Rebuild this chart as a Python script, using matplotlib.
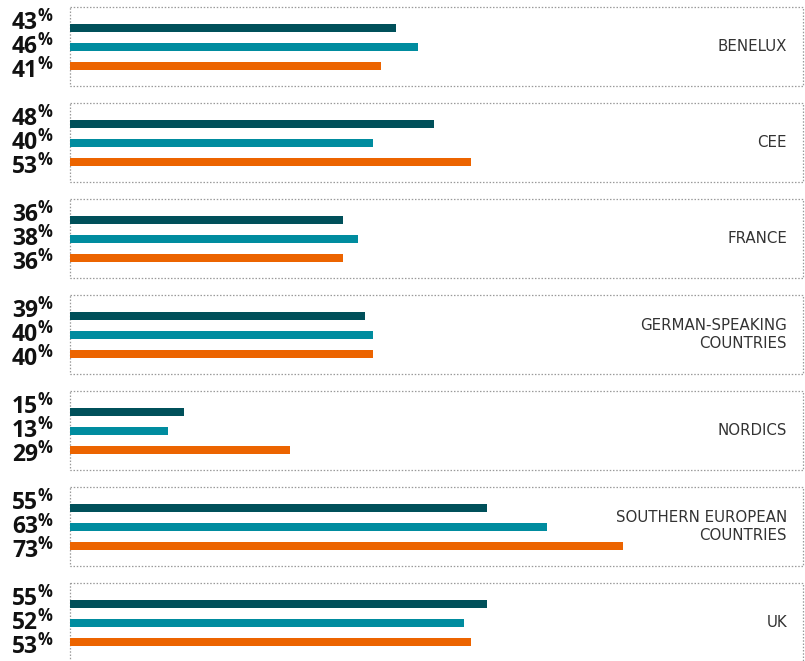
import matplotlib
matplotlib.use("Agg")
import matplotlib.pyplot as plt
from matplotlib.patches import Rectangle

regions = ["BENELUX", "CEE", "FRANCE", "GERMAN-SPEAKING\nCOUNTRIES", "NORDICS",
           "SOUTHERN EUROPEAN\nCOUNTRIES", "UK"]
series_a = [43, 48, 36, 39, 15, 55, 55]   # dark teal
series_b = [46, 40, 38, 40, 13, 63, 52]   # teal
series_c = [41, 53, 36, 40, 29, 73, 53]   # orange
colors = ["#00505A", "#008C9F", "#EC6400"]

W, H = 805, 661
fig = plt.figure(figsize=(W / 100, H / 100), dpi=100)
ax = fig.add_axes([0, 0, 1, 1])

PX = 7.575          # pixels per percent
X0 = 70             # pixel of zero
PITCH = 96.0        # pixels per group
C0 = 46.5           # pixel of first group centre

ax.set_xlim(-X0 / PX, (W - X0) / PX)
ax.set_ylim((H - C0) / PITCH, -C0 / PITCH)
ax.axis("off")

def py(p):  # pixel offset -> data units in y
    return p / PITCH

box_right = (803 - X0) / PX
bar_off = [py(-18.3), py(0.6), py(19.3)]
lab_off = [py(-17), py(7), py(30.5)]
bar_h = py(7.5)

for i, reg in enumerate(regions):
    ax.add_patch(Rectangle((0, i - py(39.7)), box_right, py(79.4), fill=False,
                           edgecolor="#9a9a9a", linewidth=0.9,
                           linestyle=(0, (1.2, 1.4)), zorder=1))
    vals = [series_a[i], series_b[i], series_c[i]]
    for k, v in enumerate(vals):
        ax.barh(i + bar_off[k], v, height=bar_h, left=0, color=colors[k],
                zorder=2)
        ax.text((38 - X0) / PX, i + lab_off[k], f"{v}", ha="right",
                va="baseline", fontsize=16.5, fontweight="bold",
                family="Open Sans", color="#111111")
        ax.text((37 - X0) / PX, i + lab_off[k] - py(8), "%", ha="left",
                va="baseline", fontsize=12, fontweight="bold",
                family="Open Sans", color="#111111")
    ax.text((787 - X0) / PX, i, reg, ha="right", va="center",
            multialignment="right", fontsize=10.8, family="DejaVu Sans",
            color="#333333", linespacing=1.3)

fig.savefig("out.png", dpi=100)
